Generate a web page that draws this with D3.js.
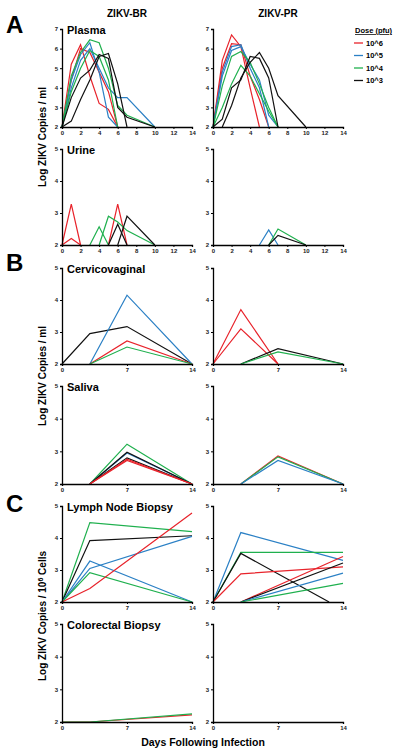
<!DOCTYPE html>
<html><head><meta charset="utf-8">
<script src="https://cdn.jsdelivr.net/npm/d3@7"></script>
<style>body{margin:0;background:#fff}svg{display:block;font-family:"Liberation Sans",Arial,sans-serif}</style>
</head><body>
<svg id="c" width="400" height="756"></svg>
<script>
const doses = ["10^6","10^5","10^4","10^3"];
const doseColors = ["#e8232b","#2b80c5","#1fb04e","#111111"];
const strains = ["ZIKV-BR","ZIKV-PR"];
const plasmaTicksX = [0,2,4,6,8,10,12,14];
const weekTicksX = [0,7,14];

// each series: [dose, [[day, log copies], ...]]
const plasmaBR = [
 ["10^6",[[0,2],[1,5.2],[2,6.2],[3,4.6],[4,3.2],[5,2.9],[6,2]]],
 ["10^6",[[0,2],[1,4.4],[2,6.0],[3,5.8],[4,4.8],[5,3.8],[6,2]]],
 ["10^5",[[0,2],[1,4.4],[2,5.7],[3,6.3],[4,4.8],[5,2.5],[6,2]]],
 ["10^5",[[0,2],[1,4.0],[2,5.4],[3,6.0],[4,5.0],[5,4.0],[6,3.5],[7,3.5],[10,2]]],
 ["10^4",[[0,2],[1,4.6],[2,5.8],[3,6.45],[4,6.3],[5,5.0],[6,3.1],[7,2.6],[10,2]]],
 ["10^4",[[0,2],[1,3.8],[2,5.0],[3,5.9],[4,5.6],[5,4.4],[6,2]]],
 ["10^3",[[0,2],[1,2.3],[2,3.4],[3,4.4],[4,5.6],[5,5.75],[6,4.2],[7,2]]],
 ["10^3",[[0,2],[1,3.5],[2,4.5],[3,4.9],[4,5.7],[5,5.5],[6,3.0],[7,2.5],[10,2]]]
];
const plasmaPR = [
 ["10^6",[[0,2],[1,5.4],[2,6.7],[3,6.1],[4,4.0],[5,2]]],
 ["10^6",[[0,2],[1,5.0],[2,6.25],[3,6.2],[4,4.6],[5,3.4],[6,2]]],
 ["10^5",[[0,2],[1,4.8],[2,6.1],[3,6.2],[4,5.0],[5,4.0],[6,2]]],
 ["10^5",[[0,2],[1,4.6],[2,5.9],[3,6.1],[4,5.2],[5,4.4],[6,2.6],[7,2]]],
 ["10^4",[[0,2],[1,4.1],[2,5.6],[3,5.85],[4,5.3],[5,4.2],[6,3.0],[7,2]]],
 ["10^4",[[0,2],[1,3.0],[2,4.2],[3,5.15],[4,4.6],[5,3.7],[6,2.8],[7,2]]],
 ["10^3",[[0,2],[1,2.4],[2,4.0],[3,4.4],[4,5.6],[5,5.5],[6,4.5],[7,2]]],
 ["10^3",[[1,2],[2,3.1],[3,4.5],[4,5.3],[5,5.8],[6,5.0],[7,3.6],[10,2]]]
];
const urineBR = [
 ["10^6",[[0,2],[1,3.28],[2,2]]],
 ["10^6",[[0,2],[1,2.2],[2,2]]],
 ["10^6",[[5,2],[6,3.28],[7,2]]],
 ["10^4",[[3,2],[4,2.57],[5,2]]],
 ["10^4",[[4,2],[5,2.9],[6,2.72],[7,2.45],[10,2]]],
 ["10^3",[[5,2],[6,2.65],[7,2]]],
 ["10^3",[[6,2],[7,2.9],[10,2]]]
];
const urinePR = [
 ["10^5",[[5,2],[6,2.47],[7,2]]],
 ["10^4",[[6,2],[7,2.5],[10,2]]],
 ["10^3",[[6,2],[7,2.3],[10,2]]]
];
const cervBR = [
 ["10^3",[[0,2],[3,2.95],[7,3.17],[14,2]]],
 ["10^5",[[3,2],[7,4.15],[14,2]]],
 ["10^6",[[3,2],[7,2.72],[14,2]]],
 ["10^4",[[3,2],[7,2.53],[14,2]]]
];
const cervPR = [
 ["10^6",[[0,2],[3,3.7],[7,2]]],
 ["10^6",[[0,2],[3,3.1],[7,2]]],
 ["10^3",[[3,2],[7,2.48],[14,2]]],
 ["10^4",[[3,2],[7,2.38],[14,2]]]
];
const salivaBR = [
 ["10^4",[[3,2],[7,3.22],[14,2]]],
 ["10^5",[[3,2],[7,2.95],[14,2]]],
 ["10^3",[[3,2],[7,2.97],[14,2]]],
 ["10^3",[[3,2],[7,2.8],[14,2]]],
 ["10^6",[[3,2],[7,2.76],[14,2]]],
 ["10^6",[[3,2],[7,2.72],[14,2]]]
];
const salivaPR = [
 ["10^6",[[3,2],[7,2.86],[14,2]]],
 ["10^4",[[3,2],[7,2.83],[14,2]]],
 ["10^5",[[3,2],[7,2.72],[14,2]]]
];
const lymphBR = [
 ["10^4",[[0,2],[3,4.48],[14,4.2]]],
 ["10^3",[[0,2],[3,3.92],[14,4.07]]],
 ["10^5",[[0,2],[3,3.05],[14,4.05]]],
 ["10^5",[[0,2],[3,3.28],[14,2]]],
 ["10^4",[[0,2],[3,2.92],[14,2]]],
 ["10^6",[[0,2],[3,2.42],[14,4.78]]]
];
const lymphPR = [
 ["10^5",[[0,2],[3,4.17],[14,3.3]]],
 ["10^4",[[0,2],[3,3.55],[14,3.55]]],
 ["10^3",[[0,2],[3,3.52],[12.5,2]]],
 ["10^6",[[0,2],[3,2.88],[14,3.1]]],
 ["10^6",[[3,2],[14,3.42]]],
 ["10^3",[[3,2],[14,3.22]]],
 ["10^5",[[3,2],[14,2.9]]],
 ["10^4",[[3,2],[14,2.58]]]
];
const colorectalBR = [
 ["10^6",[[0,2],[3,2],[14,2.22]]],
 ["10^4",[[0,2],[3,2],[14,2.25]]]
];
const colorectalPR = [];

const color = d3.scaleOrdinal().domain(doses).range(doseColors);
const svg = d3.select("#c");

const cols = [{x0:62,x1:192},{x0:213,x1:343}];
const panels = [
 {name:"Plasma", y2:127, yTop:29, ymax:7, xt:plasmaTicksX, data:[plasmaBR,plasmaPR]},
 {name:"Urine", y2:245, yTop:149, ymax:5, xt:plasmaTicksX, data:[urineBR,urinePR]},
 {name:"Cervicovaginal", y2:364, yTop:268, ymax:5, xt:weekTicksX, data:[cervBR,cervPR]},
 {name:"Saliva", y2:484, yTop:386, ymax:5, xt:weekTicksX, data:[salivaBR,salivaPR]},
 {name:"Lymph Node Biopsy", y2:602, yTop:506, ymax:5, xt:weekTicksX, data:[lymphBR,lymphPR]},
 {name:"Colorectal Biopsy", y2:722, yTop:624, ymax:5, xt:weekTicksX, data:[colorectalBR,colorectalPR]}
];

panels.forEach(p=>{
  cols.forEach((c,ci)=>{
    const x = d3.scaleLinear().domain([0,14]).range([c.x0,c.x1]);
    const y = d3.scaleLinear().domain([2,p.ymax]).range([p.y2,p.yTop]);
    const g = svg.append("g");
    const line = d3.line().x(d=>x(d[0])).y(d=>y(d[1]));
    g.selectAll("path.s").data(p.data[ci]).join("path")
      .attr("d",d=>line(d[1])).attr("fill","none")
      .attr("stroke",d=>color(d[0])).attr("stroke-width",1.2).attr("stroke-linejoin","miter");
    const xa = g.append("g").attr("transform",`translate(0,${p.y2})`)
      .call(d3.axisBottom(x).tickValues(p.xt).tickSize(2).tickPadding(2).tickFormat(d3.format("d")));
    const ya = g.append("g").attr("transform",`translate(${c.x0},0)`)
      .call(d3.axisLeft(y).ticks(p.ymax-2).tickSize(2).tickPadding(2).tickFormat(d3.format("d")));
    [xa,ya].forEach(a=>{
      a.select(".domain").attr("stroke","#000").attr("stroke-width",1.3);
      a.selectAll(".tick line").attr("stroke","#000");
      a.selectAll("text").attr("font-size",6).attr("font-weight","bold").attr("fill","#222")
        .attr("font-family","Liberation Sans, Arial, sans-serif");
    });
    if(ci===0){
      svg.append("text").attr("x",c.x0+5).attr("y",p.yTop+5).text(p.name)
        .attr("font-size",11).attr("font-weight","bold");
    }
  });
});

// titles
strains.forEach((s,i)=>{
  svg.append("text").attr("x",(cols[i].x0+cols[i].x1)/2).attr("y",17).attr("text-anchor","middle")
    .attr("font-size",10).attr("font-weight","bold").text(s);
});
// panel letters
[["A",33],["B",271],["C",512]].forEach(d=>{
  svg.append("text").attr("x",6).attr("y",d[1]).text(d[0]).attr("font-size",24).attr("font-weight","bold");
});
// y labels
[[137,"Log ZIKV Copies / ml"],[376,"Log ZIKV Copies / ml"],[616,null]].forEach(d=>{
  const t = svg.append("text").attr("transform",`translate(46,${d[0]}) rotate(-90)`)
    .attr("text-anchor","middle").attr("font-size",10).attr("font-weight","bold");
  if(d[1]) t.text(d[1]);
  else { t.append("tspan").text("Log ZIKV Copies / 10");
         t.append("tspan").attr("dy",-3).attr("font-size",7).text("6");
         t.append("tspan").attr("dy",3).text(" Cells"); }
});
// x label
svg.append("text").attr("x",203).attr("y",746).attr("text-anchor","middle")
  .attr("font-size",10.5).attr("font-weight","bold").text("Days Following Infection");

// legend
const lg = svg.append("g");
lg.append("text").attr("x",355).attr("y",33).text("Dose (pfu)").attr("font-size",7.5)
  .attr("font-weight","bold").attr("text-decoration","underline");
doses.forEach((d,i)=>{
  const yy = 43 + i*12.5;
  lg.append("line").attr("x1",354).attr("x2",363).attr("y1",yy).attr("y2",yy)
    .attr("stroke",color(d)).attr("stroke-width",1.3);
  lg.append("text").attr("x",366).attr("y",yy+2.5).text(d).attr("font-size",7.5).attr("font-weight","bold");
});
</script>
</body></html>
